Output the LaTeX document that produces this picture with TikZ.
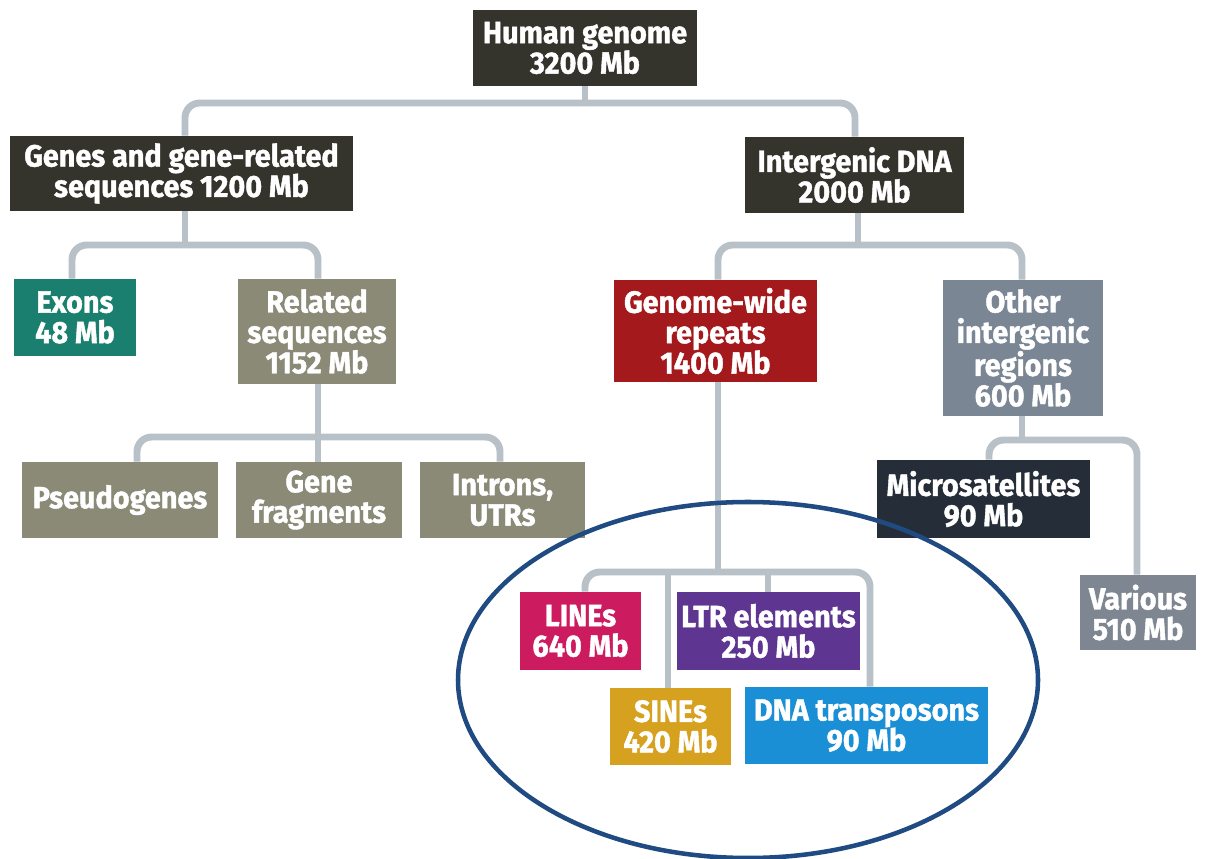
\documentclass[tikz,border=0pt]{standalone}
\usepackage{fontspec}
\newfontfamily\boxfont{Fira Sans}[FakeStretch=0.94, BoldFeatures={FakeBold=1.3}]
\usetikzlibrary{backgrounds}
\definecolor{cdark}{HTML}{34342C}
\definecolor{cteal}{HTML}{1A7F6E}
\definecolor{colive}{HTML}{8A8A77}
\definecolor{cred}{HTML}{A3191C}
\definecolor{cslate}{HTML}{7B8694}
\definecolor{cnavy}{HTML}{252E38}
\definecolor{cgray}{HTML}{7E8692}
\definecolor{cline}{HTML}{CC1B5E}
\definecolor{cltr}{HTML}{5E3590}
\definecolor{csine}{HTML}{D6A11F}
\definecolor{cdna}{HTML}{1A8FD6}
\definecolor{cconn}{HTML}{B9C1C8}
\definecolor{cell}{HTML}{1F4B82}
\tikzset{
  box/.style={rectangle, inner sep=0pt, text=white, align=center,
    font=\boxfont\bfseries\fontsize{23}{22.8}\selectfont},
  conn/.style={draw=cconn, line width=5.2pt, rounded corners=11pt},
}
\begin{document}
\begin{tikzpicture}[x=0.75pt,y=-0.75pt]
\useasboundingbox (0,0) rectangle (1205,859);
% nodes
\node[box, fill=cdark, minimum width=224*0.75pt, minimum height=76*0.75pt] (hg) at (585,48) {Human genome\\3200 Mb};
\node[box, fill=cdark, minimum width=343*0.75pt, minimum height=75*0.75pt] (genes) at (181.5,173.5) {Genes and gene-related\\sequences 1200 Mb};
\node[box, fill=cdark, minimum width=219*0.75pt, minimum height=76*0.75pt] (inter) at (854.5,175) {Intergenic DNA\\2000 Mb};
\node[box, fill=cteal, minimum width=122*0.75pt, minimum height=77*0.75pt] (exons) at (75,317.5) {Exons\\48 Mb};
\node[box, fill=colive, minimum width=158*0.75pt, minimum height=105*0.75pt] (related) at (317,331.5) {Related\\sequences\\1152 Mb};
\node[box, fill=colive, minimum width=196*0.75pt, minimum height=76*0.75pt] (pseudo) at (120,500) {Pseudogenes};
\node[box, fill=colive, minimum width=166*0.75pt, minimum height=76*0.75pt] (frag) at (319,500) {Gene\\fragments};
\node[box, fill=colive, minimum width=165*0.75pt, minimum height=76*0.75pt] (introns) at (502.5,500) {Introns,\\UTRs};
\node[box, fill=cred, minimum width=203*0.75pt, minimum height=102*0.75pt] (gwr) at (715.5,331) {Genome-wide\\repeats\\1400 Mb};
\node[box, fill=cslate, minimum width=160*0.75pt, minimum height=136*0.75pt] (other) at (1023,348) {Other\\intergenic\\regions\\600 Mb};
\node[box, fill=cnavy, minimum width=213*0.75pt, minimum height=78*0.75pt] (micro) at (983.5,499) {Microsatellites\\90 Mb};
\node[box, fill=cgray, minimum width=116*0.75pt, minimum height=75*0.75pt] (various) at (1138,612.5) {Various\\510 Mb};
\node[box, fill=cline, minimum width=121*0.75pt, minimum height=78*0.75pt] (lines) at (580.5,631) {LINEs\\640 Mb};
\node[box, fill=cltr, minimum width=183*0.75pt, minimum height=78*0.75pt] (ltr) at (768.5,631) {LTR elements\\250 Mb};
\node[box, fill=csine, minimum width=121*0.75pt, minimum height=77*0.75pt] (sines) at (670.5,726.5) {SINEs\\420 Mb};
\node[box, fill=cdna, minimum width=243*0.75pt, minimum height=77*0.75pt] (dna) at (866.5,725.5) {DNA transposons\\90 Mb};
% connectors
\begin{scope}[on background layer]
\fill[white] (0,0) rectangle (1205,859);
\coordinate (j1) at (585,103);
\draw[conn] (hg.south) -- (j1);
\draw[conn] (genes.north -| 185,0) |- (j1) -| (inter.north -| 855,0);
\coordinate (j2) at (185,245);
\draw[conn] (genes.south -| j2) -- (j2);
\draw[conn] (exons.north -| 72,0) |- (j2) -| (related.north -| 318,0);
\coordinate (j3) at (318,437);
\draw[conn] (related.south -| j3) -- (frag.north -| j3);
\draw[conn] (pseudo.north -| 137,0) |- (j3) -| (introns.north -| 500,0);
\coordinate (j4) at (858,245);
\draw[conn] (inter.south -| j4) -- (j4);
\draw[conn] (gwr.north -| 718,0) |- (j4) -| (other.north -| 1022,0);
\coordinate (j5) at (1022,440);
\draw[conn] (other.south -| j5) -- (j5);
\draw[conn] (micro.north -| 989,0) |- (j5) -| (various.north -| 1137,0);
\coordinate (j6) at (718,572);
\draw[conn] (gwr.south -| j6) -- (j6);
\draw[conn] (lines.north -| 585,0) |- (j6) -| (dna.north -| 870,0);
\draw[conn] (sines.north -| 668,0) -- (668,572);
\draw[conn] (ltr.north -| 768,0) -- (768,572);
\end{scope}
% ellipse
\coordinate (ec) at (748,680);
\draw[cell, line width=3.4pt] (ec) ellipse [x radius=290, y radius=178];
\end{tikzpicture}
\end{document}
